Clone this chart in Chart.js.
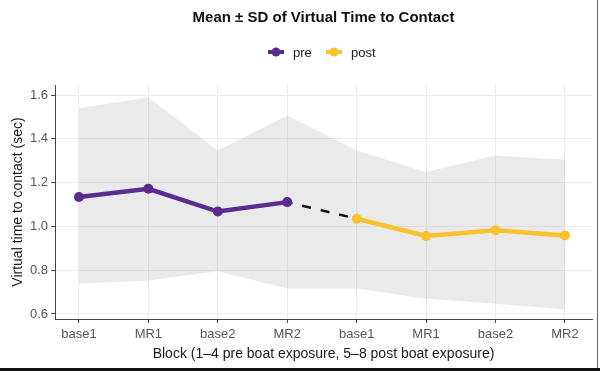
<!DOCTYPE html>
<html>
<head>
<meta charset="utf-8">
<script src="https://cdn.jsdelivr.net/npm/chart.js@4"></script>
<style>
  html, body { margin: 0; padding: 0; background: #fff; }
  #wrap { width: 600px; height: 371px; }
</style>
</head>
<body>
<div id="wrap"><canvas id="ttcChart" width="600" height="371"></canvas></div>
<script>
// block labels, 1-4 pre, 5-8 post
const blocks = ["base1", "MR1", "base2", "MR2", "base1", "MR1", "base2", "MR2"];
const preMean = [1.134, 1.172, 1.068, 1.111];
const postMean = [1.035, 0.956, 0.982, 0.959];
const sdUpper = [1.540, 1.590, 1.347, 1.507, 1.347, 1.248, 1.324, 1.305];
const sdLower = [0.738, 0.753, 0.795, 0.716, 0.716, 0.670, 0.647, 0.620];
const yTicks = [0.6, 0.8, 1.0, 1.2, 1.4, 1.6];

const PURPLE = "#5b2c8f";
const YELLOW = "#f8c12d";
const xPos = blocks.map((b, i) => i + 1);

const pts = (vals, start) => vals.map((v, i) => ({ x: xPos[start + i], y: v }));

// title + legend + picture frame drawn on canvas
const decor = {
  id: "decor",
  afterDraw(chart) {
    const c = chart.ctx;
    const cx = (chart.chartArea.left + chart.chartArea.right) / 2;
    c.save();
    c.fillStyle = "#111";
    c.font = "bold 15px 'Liberation Sans', Arial, sans-serif";
    c.textAlign = "center";
    c.textBaseline = "middle";
    c.fillText("Mean \u00b1 SD of Virtual Time to Contact", cx, 18);

    // legend
    const items = [["pre", PURPLE, 268], ["post", YELLOW, 326]];
    c.font = "13px 'Liberation Sans', Arial, sans-serif";
    c.textAlign = "left";
    items.forEach(([txt, col, x]) => {
      c.strokeStyle = col;
      c.lineWidth = 4;
      c.beginPath();
      c.moveTo(x, 52);
      c.lineTo(x + 16, 52);
      c.stroke();
      c.fillStyle = col;
      c.beginPath();
      c.arc(x + 8, 52, 4.5, 0, Math.PI * 2);
      c.fill();
      c.fillStyle = "#222";
      c.fillText(txt, x + 25, 53);
    });

    // frame of the original picture
    c.strokeStyle = "#666";
    c.lineWidth = 1;
    c.beginPath();
    c.moveTo(597.5, 0);
    c.lineTo(597.5, 371);
    c.stroke();
    c.strokeStyle = "#111";
    c.lineWidth = 3;
    c.beginPath();
    c.moveTo(0, 369.5);
    c.lineTo(600, 369.5);
    c.stroke();
    c.restore();
  }
};

const ctx = document.getElementById("ttcChart").getContext("2d");
const ttcChart = new Chart(ctx, {
  type: "line",
  data: {
    datasets: [
      {
        label: "pre",
        data: pts(preMean, 0),
        borderColor: PURPLE,
        backgroundColor: PURPLE,
        borderWidth: 4.5,
        pointRadius: 5,
        pointBorderWidth: 0,
        pointHoverRadius: 5,
        fill: false,
      },
      {
        label: "post",
        data: pts(postMean, 4),
        borderColor: YELLOW,
        backgroundColor: YELLOW,
        borderWidth: 4.5,
        pointRadius: 5,
        pointBorderWidth: 0,
        pointHoverRadius: 5,
        fill: false,
      },
      {
        label: "link",
        data: [{ x: xPos[3], y: preMean[3] }, { x: xPos[4], y: postMean[0] }],
        borderColor: "#111",
        borderWidth: 2.5,
        borderDash: [9, 10],
        borderDashOffset: 3.6,
        pointRadius: 0,
        fill: false,
      },
      {
        label: "sdUpper",
        data: pts(sdUpper, 0),
        borderWidth: 0,
        pointRadius: 0,
        backgroundColor: "rgba(190,190,190,0.33)",
        fill: "+1",
      },
      {
        label: "sdLower",
        data: pts(sdLower, 0),
        borderWidth: 0,
        pointRadius: 0,
        fill: false,
      },
    ],
  },
  options: {
    responsive: false,
    animation: false,
    layout: { padding: { left: 0, right: 8, top: 85, bottom: 0 } },
    plugins: {
      legend: { display: false },
      title: { display: false },
      tooltip: { enabled: false },
    },
    scales: {
      x: {
        type: "linear",
        min: 0.655,
        max: 8.39,
        afterBuildTicks: (axis) => {
          axis.ticks = xPos.map((v) => ({ value: v }));
        },
        afterFit: (axis) => {
          axis.height = 52;
        },
        ticks: {
          autoSkip: false,
          maxRotation: 0,
          padding: 4,
          color: "#555",
          font: { size: 13, family: "'Liberation Sans', Arial, sans-serif" },
          callback: (v) => blocks[v - 1],
        },
        grid: { color: "#ebebeb", tickColor: "#444", tickLength: 4 },
        border: { display: true, color: "#444", width: 1 },
        title: {
          display: true,
          text: "Block (1\u20134 pre boat exposure, 5\u20138 post boat exposure)",
          color: "#1a1a1a",
          font: { size: 14, family: "'Liberation Sans', Arial, sans-serif" },
          padding: { top: 0, bottom: 8 },
        },
      },
      y: {
        min: 0.577,
        max: 1.646,
        afterBuildTicks: (axis) => {
          axis.ticks = yTicks.map((v) => ({ value: v }));
        },
        afterFit: (axis) => {
          axis.width = 55;
        },
        ticks: {
          padding: 3,
          color: "#555",
          font: { size: 13, family: "'Liberation Sans', Arial, sans-serif" },
          callback: (v) => v.toFixed(1),
        },
        grid: { color: "#ebebeb", tickColor: "#444", tickLength: 4 },
        border: { display: true, color: "#444", width: 1 },
        title: {
          display: true,
          text: "Virtual time to contact (sec)",
          color: "#1a1a1a",
          font: { size: 14, family: "'Liberation Sans', Arial, sans-serif" },
          padding: { top: 10, bottom: 0 },
        },
      },
    },
  },
  plugins: [decor],
});
</script>
</body>
</html>
